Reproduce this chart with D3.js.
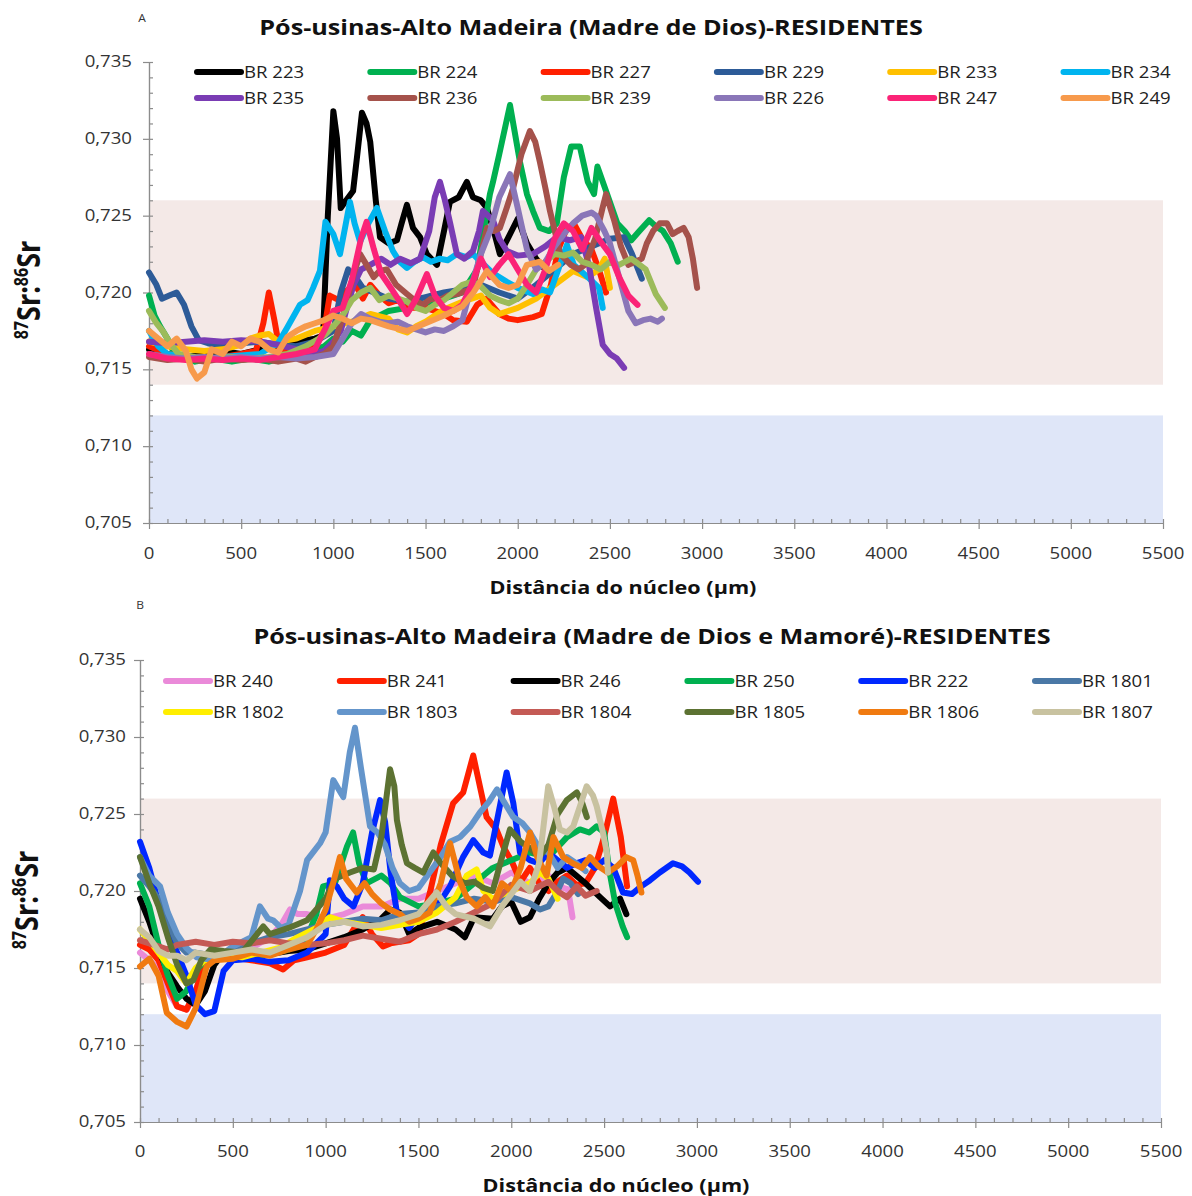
<!DOCTYPE html>
<html>
<head>
<meta charset="utf-8">
<script src="https://cdn.jsdelivr.net/npm/d3@7"></script>
<style>
  body { margin: 0; background: #fff; }
  svg { display: block; }
</style>
</head>
<body>
<script>
// ---------- data ----------
const titles = [
  "Pós-usinas-Alto Madeira (Madre de Dios)-RESIDENTES",
  "Pós-usinas-Alto Madeira (Madre de Dios e Mamoré)-RESIDENTES"
];
const panelLetters = ["A", "B"];
const xTitle = "Distância do núcleo (µm)";
const xTicks = [0, 500, 1000, 1500, 2000, 2500, 3000, 3500, 4000, 4500, 5000, 5500];
const yTicks = [0.705, 0.710, 0.715, 0.720, 0.725, 0.730, 0.735];
const localBand = [0.714, 0.726];
const otherBand = [0.705, 0.712];

const namesA = ["BR 223", "BR 224", "BR 227", "BR 229", "BR 233", "BR 234",
                "BR 235", "BR 236", "BR 239", "BR 226", "BR 247", "BR 249"];
const namesB = ["BR 240", "BR 241", "BR 246", "BR 250", "BR 222", "BR 1801",
                "BR 1802", "BR 1803", "BR 1804", "BR 1805", "BR 1806", "BR 1807"];

// distance (µm), 87Sr/86Sr
const br223 = [[0,0.7163],[100,0.7160],[200,0.7158],[300,0.7160],[400,0.7162],[500,0.7160],[600,0.7163],[700,0.7165],[800,0.7168],[900,0.7170],[944,0.7172],[970,0.7250],[1000,0.7318],[1020,0.7300],[1040,0.7255],[1070,0.7260],[1107,0.7266],[1130,0.7290],[1155,0.7317],[1180,0.7310],[1200,0.7298],[1230,0.7260],[1253,0.7236],[1300,0.7232],[1345,0.7234],[1370,0.7245],[1399,0.7257],[1432,0.7242],[1470,0.7236],[1507,0.7225],[1562,0.7218],[1600,0.7240],[1632,0.7259],[1680,0.7262],[1724,0.7272],[1757,0.7262],[1800,0.7260],[1833,0.7255],[1870,0.7240],[1903,0.7225],[1950,0.7236],[2000,0.7248],[2050,0.7232],[2100,0.7222],[2150,0.7215]];
const br224 = [[0,0.7198],[30,0.7185],[60,0.7178],[100,0.7170],[130,0.7162],[180,0.7158],[250,0.7155],[350,0.7157],[450,0.7155],[550,0.7157],[650,0.7155],[750,0.7158],[850,0.7160],[950,0.7165],[1000,0.7170],[1050,0.7168],[1100,0.7175],[1150,0.7172],[1200,0.7182],[1300,0.7188],[1400,0.7190],[1500,0.7193],[1600,0.7196],[1700,0.7200],[1780,0.7215],[1849,0.7264],[1866,0.7272],[1900,0.7290],[1958,0.7322],[2012,0.7285],[2050,0.7264],[2083,0.7253],[2120,0.7242],[2170,0.7240],[2212,0.7245],[2250,0.7275],[2290,0.7295],[2337,0.7295],[2380,0.7272],[2414,0.7264],[2432,0.7282],[2479,0.7266],[2540,0.7245],[2580,0.7240],[2616,0.7234],[2660,0.7240],[2713,0.7247],[2750,0.7243],[2788,0.7240],[2830,0.7232],[2868,0.7220]];
const br227 = [[0,0.7165],[100,0.7160],[200,0.7158],[300,0.7157],[400,0.7158],[500,0.7160],[580,0.7162],[620,0.7180],[650,0.7200],[680,0.7182],[710,0.7162],[800,0.7163],[900,0.7165],[950,0.7175],[980,0.7198],[1030,0.7195],[1080,0.7202],[1120,0.7205],[1160,0.7196],[1200,0.7205],[1250,0.7198],[1300,0.7193],[1350,0.7195],[1400,0.7190],[1500,0.7190],[1600,0.7186],[1650,0.7182],[1724,0.7181],[1780,0.7192],[1830,0.7196],[1900,0.7186],[1950,0.7183],[2000,0.7182],[2083,0.7184],[2130,0.7186],[2180,0.7205],[2220,0.7228],[2260,0.7240],[2304,0.7245],[2350,0.7235],[2400,0.7228],[2440,0.7215],[2479,0.7200]];
const br229 = [[0,0.7213],[40,0.7205],[70,0.7196],[110,0.7198],[150,0.7200],[190,0.7192],[230,0.7178],[270,0.7169],[320,0.7167],[400,0.7165],[500,0.7167],[600,0.7168],[700,0.7166],[800,0.7165],[900,0.7168],[1000,0.7175],[1040,0.7200],[1080,0.7215],[1120,0.7210],[1160,0.7203],[1220,0.7200],[1300,0.7196],[1400,0.7194],[1500,0.7197],[1600,0.7200],[1700,0.7202],[1800,0.7205],[1900,0.7200],[2000,0.7196],[2100,0.7205],[2200,0.7215],[2300,0.7225],[2400,0.7230],[2500,0.7235],[2577,0.7236],[2620,0.7225],[2673,0.7209]];
const br233 = [[0,0.7168],[100,0.7165],[200,0.7163],[300,0.7162],[400,0.7163],[500,0.7166],[550,0.7170],[600,0.7172],[650,0.7173],[700,0.7168],[800,0.7170],[900,0.7175],[1000,0.7178],[1100,0.7181],[1200,0.7186],[1300,0.7183],[1350,0.7176],[1400,0.7174],[1450,0.7178],[1500,0.7181],[1600,0.7189],[1700,0.7194],[1800,0.7198],[1850,0.7190],[1900,0.7186],[2000,0.7190],[2100,0.7196],[2200,0.7205],[2300,0.7214],[2380,0.7210],[2440,0.7215],[2472,0.7222],[2500,0.7203]];
const br234 = [[0,0.7175],[50,0.7165],[100,0.7160],[200,0.7158],[300,0.7157],[400,0.7158],[500,0.7159],[600,0.7160],[700,0.7167],[749,0.7177],[819,0.7192],[860,0.7195],[890,0.7203],[927,0.7214],[957,0.7246],[1000,0.7238],[1036,0.7225],[1060,0.7240],[1090,0.7259],[1115,0.7245],[1145,0.7233],[1190,0.7245],[1236,0.7255],[1280,0.7240],[1323,0.7227],[1360,0.7220],[1399,0.7216],[1440,0.7220],[1486,0.7223],[1530,0.7220],[1578,0.7222],[1620,0.7221],[1670,0.7225],[1720,0.7223],[1757,0.7225],[1800,0.7220],[1860,0.7213],[1941,0.7207],[2000,0.7203],[2083,0.7199],[2130,0.7202],[2175,0.7200],[2220,0.7215],[2267,0.7231],[2304,0.7218],[2380,0.7210],[2441,0.7203],[2461,0.7190]];
const br235 = [[0,0.7168],[100,0.7167],[200,0.7168],[300,0.7169],[400,0.7168],[500,0.7169],[600,0.7168],[700,0.7166],[800,0.7163],[900,0.7160],[950,0.7162],[1000,0.7168],[1040,0.7175],[1073,0.7190],[1110,0.7205],[1150,0.7215],[1200,0.7218],[1260,0.7222],[1310,0.7218],[1362,0.7222],[1420,0.7219],[1470,0.7222],[1520,0.7240],[1550,0.7262],[1578,0.7272],[1605,0.7260],[1632,0.7246],[1670,0.7225],[1710,0.7222],[1757,0.7227],[1790,0.7240],[1811,0.7253],[1866,0.7247],[1900,0.7235],[1941,0.7227],[2000,0.7224],[2083,0.7225],[2150,0.7230],[2212,0.7236],[2283,0.7234],[2343,0.7236],[2386,0.7218],[2425,0.7190],[2461,0.7166],[2500,0.7160],[2538,0.7157],[2577,0.7151]];
const br236 = [[0,0.7158],[100,0.7156],[200,0.7157],[300,0.7155],[400,0.7157],[500,0.7156],[600,0.7157],[700,0.7155],[800,0.7157],[850,0.7155],[900,0.7158],[950,0.7160],[1000,0.7165],[1040,0.7180],[1073,0.7194],[1110,0.7212],[1145,0.7225],[1180,0.7218],[1218,0.7210],[1250,0.7214],[1290,0.7215],[1340,0.7205],[1399,0.7199],[1440,0.7195],[1486,0.7192],[1530,0.7196],[1578,0.7195],[1620,0.7198],[1670,0.7199],[1720,0.7201],[1757,0.7203],[1800,0.7225],[1833,0.7242],[1870,0.7240],[1903,0.7242],[1940,0.7255],[1975,0.7268],[2020,0.7290],[2066,0.7305],[2095,0.7298],[2120,0.7285],[2150,0.7268],[2175,0.7253],[2205,0.7238],[2230,0.7225],[2288,0.7218],[2330,0.7215],[2364,0.7218],[2420,0.7235],[2460,0.7255],[2479,0.7264],[2523,0.7247],[2560,0.7230],[2600,0.7218],[2640,0.7220],[2673,0.7222],[2700,0.7232],[2734,0.7240],[2770,0.7245],[2810,0.7245],[2840,0.7238],[2868,0.7240],[2900,0.7242],[2927,0.7236],[2950,0.7222],[2973,0.7203]];
const br239 = [[0,0.7188],[40,0.7180],[80,0.7174],[120,0.7166],[160,0.7160],[250,0.7158],[350,0.7157],[450,0.7158],[550,0.7157],[650,0.7158],[750,0.7160],[850,0.7165],[950,0.7172],[1000,0.7178],[1050,0.7185],[1100,0.7195],[1150,0.7200],[1200,0.7203],[1250,0.7195],[1300,0.7198],[1350,0.7196],[1400,0.7194],[1450,0.7190],[1500,0.7188],[1550,0.7192],[1600,0.7195],[1650,0.7200],[1700,0.7205],[1750,0.7207],[1800,0.7204],[1850,0.7198],[1900,0.7195],[1950,0.7193],[2000,0.7196],[2050,0.7205],[2100,0.7215],[2150,0.7220],[2200,0.7225],[2250,0.7224],[2300,0.7226],[2350,0.7220],[2400,0.7218],[2450,0.7215],[2500,0.7220],[2550,0.7218],[2616,0.7222],[2694,0.7215],[2749,0.7199],[2798,0.7190]];
const br226 = [[0,0.7160],[100,0.7158],[200,0.7157],[300,0.7158],[400,0.7157],[500,0.7158],[600,0.7157],[700,0.7158],[800,0.7157],[900,0.7158],[1000,0.7160],[1050,0.7170],[1100,0.7180],[1150,0.7186],[1200,0.7183],[1250,0.7181],[1300,0.7180],[1350,0.7181],[1400,0.7178],[1450,0.7176],[1500,0.7174],[1550,0.7176],[1600,0.7175],[1650,0.7178],[1700,0.7182],[1750,0.7205],[1800,0.7225],[1850,0.7240],[1900,0.7262],[1958,0.7277],[2000,0.7255],[2050,0.7228],[2100,0.7215],[2150,0.7220],[2200,0.7230],[2250,0.7238],[2300,0.7245],[2350,0.7250],[2400,0.7252],[2425,0.7250],[2470,0.7240],[2500,0.7232],[2550,0.7210],[2600,0.7188],[2640,0.7180],[2680,0.7182],[2720,0.7183],[2760,0.7181],[2782,0.7183]];
const br247 = [[0,0.7160],[100,0.7157],[200,0.7156],[300,0.7157],[400,0.7156],[500,0.7157],[600,0.7156],[700,0.7158],[800,0.7160],[900,0.7163],[950,0.7175],[1000,0.7188],[1050,0.7190],[1100,0.7208],[1150,0.7235],[1180,0.7246],[1220,0.7228],[1260,0.7212],[1300,0.7205],[1350,0.7196],[1400,0.7186],[1450,0.7196],[1507,0.7212],[1550,0.7198],[1600,0.7190],[1650,0.7188],[1700,0.7192],[1750,0.7205],[1800,0.7222],[1850,0.7210],[1900,0.7218],[1950,0.7225],[2000,0.7215],[2050,0.7205],[2100,0.7200],[2150,0.7215],[2200,0.7235],[2250,0.7245],[2300,0.7240],[2350,0.7228],[2400,0.7242],[2450,0.7233],[2500,0.7225],[2550,0.7210],[2600,0.7198],[2650,0.7192]];
const br249 = [[0,0.7175],[50,0.7170],[100,0.7165],[150,0.7170],[200,0.7162],[230,0.7150],[260,0.7144],[300,0.7148],[340,0.7163],[400,0.7160],[450,0.7168],[500,0.7165],[550,0.7170],[600,0.7168],[650,0.7163],[700,0.7161],[750,0.7171],[800,0.7175],[850,0.7178],[900,0.7180],[950,0.7182],[1000,0.7185],[1050,0.7183],[1100,0.7180],[1150,0.7183],[1200,0.7182],[1300,0.7178],[1400,0.7175],[1500,0.7180],[1600,0.7185],[1700,0.7191],[1760,0.7200],[1833,0.7214],[1900,0.7205],[1950,0.7203],[2000,0.7205],[2050,0.7218],[2120,0.7220],[2170,0.7214],[2220,0.7218]];

const br240 = [[0,0.7160],[50,0.7155],[100,0.7150],[150,0.7135],[200,0.7125],[253,0.7123],[300,0.7135],[350,0.7150],[400,0.7158],[500,0.7162],[600,0.7163],[700,0.7170],[760,0.7178],[808,0.7188],[850,0.7185],[900,0.7185],[1000,0.7182],[1100,0.7185],[1200,0.7190],[1300,0.7190],[1400,0.7195],[1500,0.7195],[1600,0.7200],[1700,0.7205],[1800,0.7210],[1900,0.7205],[2000,0.7212],[2100,0.7205],[2200,0.7210],[2280,0.7202],[2306,0.7201],[2330,0.7183]];
const br241 = [[0,0.7165],[50,0.7162],[100,0.7155],[150,0.7140],[200,0.7125],[250,0.7123],[300,0.7135],[350,0.7155],[400,0.7158],[500,0.7157],[600,0.7155],[700,0.7153],[771,0.7149],[830,0.7155],[900,0.7157],[1000,0.7160],[1100,0.7165],[1150,0.7175],[1200,0.7183],[1250,0.7172],[1309,0.7164],[1350,0.7166],[1400,0.7167],[1450,0.7168],[1500,0.7172],[1562,0.7199],[1620,0.7230],[1687,0.7257],[1741,0.7264],[1795,0.7288],[1831,0.7268],[1867,0.7248],[1920,0.7240],[1960,0.7228],[2000,0.7220],[2050,0.7206],[2100,0.7215],[2150,0.7205],[2200,0.7200],[2250,0.7206],[2300,0.7210],[2350,0.7204],[2400,0.7205],[2450,0.7215],[2500,0.7235],[2549,0.7260],[2590,0.7235],[2624,0.7203]];
const br246 = [[0,0.7195],[50,0.7180],[100,0.7162],[150,0.7147],[200,0.7138],[250,0.7130],[300,0.7126],[350,0.7135],[400,0.7152],[450,0.7160],[500,0.7158],[600,0.7160],[700,0.7159],[800,0.7161],[900,0.7162],[1000,0.7166],[1100,0.7170],[1200,0.7175],[1300,0.7182],[1350,0.7188],[1400,0.7186],[1450,0.7172],[1500,0.7176],[1600,0.7180],[1700,0.7175],[1750,0.7170],[1800,0.7183],[1900,0.7182],[1950,0.7190],[2000,0.7193],[2050,0.7180],[2101,0.7183],[2150,0.7195],[2200,0.7205],[2250,0.7212],[2300,0.7215],[2350,0.7210],[2400,0.7205],[2478,0.7196],[2532,0.7190],[2586,0.7195],[2620,0.7185]];
const br250 = [[0,0.7205],[50,0.7190],[100,0.7165],[150,0.7145],[200,0.7130],[250,0.7135],[300,0.7148],[350,0.7155],[400,0.7157],[500,0.7158],[600,0.7157],[700,0.7159],[800,0.7162],[900,0.7170],[950,0.7185],[986,0.7203],[1050,0.7205],[1115,0.7229],[1148,0.7238],[1180,0.7218],[1220,0.7205],[1300,0.7210],[1350,0.7205],[1400,0.7196],[1500,0.7190],[1600,0.7192],[1700,0.7195],[1800,0.7205],[1900,0.7215],[2000,0.7220],[2100,0.7225],[2200,0.7222],[2300,0.7235],[2370,0.7240],[2420,0.7238],[2460,0.7242],[2500,0.7238],[2530,0.7212],[2560,0.7192],[2600,0.7177],[2624,0.7170]];
const br222 = [[0,0.7232],[50,0.7215],[100,0.7192],[150,0.7176],[200,0.7160],[250,0.7145],[300,0.7126],[350,0.7120],[400,0.7122],[450,0.7148],[500,0.7155],[600,0.7156],[700,0.7154],[800,0.7155],[900,0.7160],[1000,0.7172],[1023,0.7207],[1060,0.7203],[1100,0.7195],[1150,0.7190],[1200,0.7205],[1250,0.7238],[1293,0.7259],[1320,0.7245],[1350,0.7212],[1384,0.7186],[1450,0.7176],[1500,0.7185],[1600,0.7190],[1670,0.7203],[1740,0.7222],[1795,0.7233],[1849,0.7225],[1885,0.7223],[1930,0.7250],[1975,0.7277],[2011,0.7257],[2047,0.7225],[2100,0.7220],[2150,0.7218],[2200,0.7225],[2250,0.7220],[2300,0.7215],[2350,0.7218],[2400,0.7220],[2450,0.7215],[2500,0.7220],[2550,0.7215],[2602,0.7199],[2650,0.7198],[2700,0.7203],[2748,0.7207],[2800,0.7212],[2871,0.7218],[2920,0.7216],[2960,0.7212],[3006,0.7206]];
const br1801 = [[0,0.7210],[50,0.7203],[100,0.7195],[150,0.7180],[200,0.7166],[250,0.7160],[300,0.7160],[400,0.7158],[500,0.7160],[600,0.7166],[700,0.7170],[800,0.7172],[900,0.7175],[1000,0.7178],[1100,0.7180],[1200,0.7182],[1300,0.7181],[1400,0.7185],[1500,0.7186],[1600,0.7190],[1700,0.7192],[1800,0.7195],[1900,0.7193],[2000,0.7196],[2100,0.7192],[2155,0.7188],[2200,0.7190],[2245,0.7199],[2279,0.7208],[2320,0.7205],[2360,0.7198]];
const br1802 = [[0,0.7175],[50,0.7168],[100,0.7160],[150,0.7152],[200,0.7148],[250,0.7140],[300,0.7150],[350,0.7155],[450,0.7158],[550,0.7157],[650,0.7160],[750,0.7163],[850,0.7170],[950,0.7176],[1023,0.7183],[1100,0.7180],[1200,0.7178],[1300,0.7176],[1400,0.7178],[1500,0.7180],[1600,0.7186],[1700,0.7196],[1760,0.7210],[1813,0.7214],[1850,0.7200],[1900,0.7195],[2000,0.7200],[2100,0.7205],[2155,0.7212],[2200,0.7208],[2250,0.7195]];
const br1803 = [[0,0.7222],[50,0.7210],[108,0.7203],[150,0.7186],[200,0.7172],[250,0.7163],[305,0.7157],[400,0.7155],[500,0.7164],[600,0.7170],[646,0.7190],[690,0.7182],[717,0.7181],[760,0.7176],[800,0.7178],[862,0.7200],[900,0.7220],[970,0.7231],[1000,0.7238],[1041,0.7272],[1070,0.7266],[1095,0.7261],[1130,0.7290],[1158,0.7306],[1190,0.7280],[1239,0.7242],[1280,0.7238],[1320,0.7230],[1360,0.7215],[1400,0.7205],[1450,0.7200],[1500,0.7202],[1560,0.7212],[1620,0.7222],[1670,0.7232],[1724,0.7235],[1780,0.7242],[1831,0.7251],[1880,0.7258],[1923,0.7266],[1960,0.7258],[2011,0.7248],[2060,0.7244],[2101,0.7238],[2150,0.7228],[2200,0.7225],[2250,0.7215],[2300,0.7222],[2350,0.7218],[2400,0.7213]];
const br1804 = [[0,0.7168],[50,0.7166],[100,0.7164],[150,0.7162],[200,0.7165],[300,0.7167],[400,0.7165],[500,0.7167],[600,0.7166],[700,0.7168],[800,0.7166],[900,0.7165],[1000,0.7166],[1100,0.7168],[1200,0.7171],[1300,0.7169],[1400,0.7167],[1500,0.7172],[1600,0.7175],[1700,0.7180],[1800,0.7186],[1900,0.7192],[2000,0.7204],[2100,0.7200],[2200,0.7206],[2260,0.7199],[2300,0.7196],[2353,0.7203],[2400,0.7197],[2460,0.7200]];
const br1805 = [[0,0.7222],[50,0.7205],[100,0.7190],[150,0.7170],[200,0.7152],[250,0.7140],[287,0.7142],[330,0.7155],[380,0.7162],[450,0.7161],[550,0.7160],[664,0.7177],[700,0.7172],[800,0.7176],[900,0.7181],[1000,0.7195],[1050,0.7208],[1131,0.7212],[1200,0.7215],[1260,0.7214],[1300,0.7235],[1347,0.7279],[1370,0.7268],[1384,0.7246],[1410,0.7230],[1438,0.7218],[1480,0.7215],[1526,0.7212],[1580,0.7225],[1620,0.7218],[1680,0.7210],[1750,0.7205],[1800,0.7206],[1850,0.7202],[1900,0.7200],[1950,0.7222],[1993,0.7240],[2050,0.7232],[2100,0.7228],[2150,0.7222],[2200,0.7230],[2250,0.7250],[2299,0.7259],[2353,0.7264],[2380,0.7258],[2407,0.7248]];
const br1806 = [[0,0.7151],[50,0.7156],[100,0.7145],[144,0.7121],[200,0.7115],[251,0.7112],[300,0.7124],[359,0.7151],[400,0.7155],[500,0.7156],[600,0.7160],[700,0.7158],[800,0.7162],[900,0.7165],[950,0.7175],[1000,0.7188],[1040,0.7205],[1077,0.7222],[1110,0.7208],[1167,0.7199],[1210,0.7205],[1250,0.7198],[1300,0.7192],[1347,0.7188],[1400,0.7185],[1450,0.7180],[1500,0.7182],[1560,0.7186],[1620,0.7205],[1670,0.7231],[1724,0.7206],[1760,0.7196],[1813,0.7190],[1860,0.7196],[1900,0.7190],[1950,0.7205],[2000,0.7200],[2050,0.7215],[2101,0.7238],[2140,0.7222],[2190,0.7210],[2227,0.7235],[2280,0.7222],[2330,0.7218],[2380,0.7215],[2424,0.7222],[2470,0.7216],[2520,0.7212],[2570,0.7216],[2620,0.7222],[2657,0.7220],[2680,0.7210],[2701,0.7199]];
const br1807 = [[0,0.7175],[50,0.7170],[100,0.7161],[150,0.7158],[200,0.7158],[250,0.7155],[300,0.7160],[400,0.7158],[500,0.7160],[600,0.7162],[700,0.7160],[800,0.7165],[900,0.7170],[1000,0.7178],[1100,0.7180],[1200,0.7177],[1300,0.7178],[1400,0.7181],[1500,0.7185],[1598,0.7199],[1650,0.7190],[1700,0.7185],[1800,0.7182],[1885,0.7177],[1950,0.7190],[2000,0.7198],[2050,0.7206],[2100,0.7200],[2150,0.7218],[2199,0.7268],[2230,0.7255],[2262,0.7240],[2300,0.7238],[2334,0.7242],[2370,0.7255],[2406,0.7268],[2440,0.7262],[2460,0.7255],[2490,0.7240],[2515,0.7225],[2521,0.7212]];

const seriesA = [br223, br224, br227, br229, br233, br234, br235, br236, br239, br226, br247, br249];
const seriesB = [br240, br241, br246, br250, br222, br1801, br1802, br1803, br1804, br1805, br1806, br1807];

// ---------- styles ----------
const colorsA = ["#000000", "#00b050", "#ff2000", "#2d5b98", "#ffc000", "#00b4ef",
                 "#7a3cb4", "#a5524b", "#9cbb5a", "#8a76b8", "#fb2377", "#f79a4c"];
const colorsB = ["#ea8ad9", "#ff2000", "#000000", "#00b050", "#0028ff", "#4a78a6",
                 "#ffee00", "#6495cb", "#c45a55", "#5c7232", "#f07a10", "#c8c2a0"];

const panels = [
  { names: namesA, series: seriesA, colors: colorsA, title: titles[0], letter: panelLetters[0],
    x0: 149, x1: 1163, yBot: 523, yTop: 62,
    legendX: 197, legendStep: 173.3, legendRows: [72, 98],
    titlePos: [591, 35], letterPos: [142, 22], xTitlePos: [623, 594], yTitlePos: [40, 290],
    tickY: 559, tickX: 132 },
  { names: namesB, series: seriesB, colors: colorsB, title: titles[1], letter: panelLetters[1],
    x0: 140, x1: 1161, yBot: 1122, yTop: 660,
    legendX: 166, legendStep: 173.8, legendRows: [681, 712],
    titlePos: [652, 644], letterPos: [140, 609], xTitlePos: [616, 1192], yTitlePos: [38, 900],
    tickY: 1157, tickX: 126 }
];

const SX = 1.2;              // the source figure is stretched horizontally
const axisColor = "#8c8c8c";
const fmt = d3.formatLocale({ decimal: ",", thousands: ".", grouping: [3], currency: ["", ""] }).format(".3f");

const svg = d3.select("body").append("svg")
  .attr("width", 1192).attr("height", 1196)
  .style("font-family", "'Open Sans', sans-serif");

function stretchedText(g, x, y, txt, size, anchor, weight, fill) {
  return g.append("text")
    .attr("transform", `translate(${x},${y}) scale(${SX},1)`)
    .attr("text-anchor", anchor)
    .attr("font-size", size)
    .attr("font-weight", weight || "normal")
    .attr("fill", fill || "#222")
    .text(txt);
}

panels.forEach(p => {
  const g = svg.append("g");
  const x = d3.scaleLinear().domain([0, 5500]).range([p.x0, p.x1]);
  const y = d3.scaleLinear().domain([0.705, 0.735]).range([p.yBot, p.yTop]);

  // reference bands
  [[localBand, "#f4e9e7"], [otherBand, "#dfe6f8"]].forEach(([b, c]) => {
    g.append("rect")
      .attr("x", x(0)).attr("width", x(5500) - x(0))
      .attr("y", y(b[1])).attr("height", y(b[0]) - y(b[1]))
      .attr("fill", c);
  });

  // axes
  const gx = g.append("g").attr("transform", `translate(0,${y(0.705)})`);
  gx.call(d3.axisBottom(x).tickValues(xTicks).tickSize(6).tickSizeOuter(0).tickFormat(""));
  gx.append("g").call(d3.axisTop(x).tickValues(x.ticks(55)).tickSize(4).tickSizeOuter(0).tickFormat(""));
  const gy = g.append("g").attr("transform", `translate(${x(0)},0)`);
  gy.call(d3.axisLeft(y).tickValues(yTicks).tickSize(6).tickSizeOuter(0).tickFormat(""));
  gy.append("g").call(d3.axisRight(y).tickValues(y.ticks(30)).tickSize(4).tickSizeOuter(0).tickFormat(""));
  g.selectAll(".domain, .tick line").attr("stroke", axisColor).attr("stroke-width", 1.2);

  xTicks.forEach(t => stretchedText(g, x(t), p.tickY, String(t), 15.5, "middle", "normal", "#333"));
  yTicks.forEach(t => stretchedText(g, p.tickX, y(t) + 5, fmt(t), 15.5, "end", "normal", "#333"));

  // lines
  const line = d3.line().x(d => x(d[0])).y(d => y(d[1]));
  g.append("g").attr("fill", "none")
    .selectAll("path")
    .data(p.series)
    .join("path")
    .attr("d", line)
    .attr("stroke", (d, i) => p.colors[i])
    .attr("stroke-width", 6)
    .attr("stroke-linejoin", "round")
    .attr("stroke-linecap", "round");

  // legend
  const lg = g.append("g");
  p.names.forEach((n, i) => {
    const col = i % 6, row = Math.floor(i / 6);
    const lx = p.legendX + col * p.legendStep, ly = p.legendRows[row];
    lg.append("line")
      .attr("x1", lx).attr("x2", lx + 44).attr("y1", ly).attr("y2", ly)
      .attr("stroke", p.colors[i]).attr("stroke-width", 6).attr("stroke-linecap", "round");
    stretchedText(lg, lx + 47, ly + 6, n, 15.5, "start", "normal", "#222");
  });

  // titles
  stretchedText(g, p.titlePos[0], p.titlePos[1], p.title, 21, "middle", "bold", "#111");
  stretchedText(g, p.letterPos[0], p.letterPos[1], p.letter, 10, "middle", "normal", "#333");
  stretchedText(g, p.xTitlePos[0], p.xTitlePos[1], xTitle, 18, "middle", "bold", "#111");

  const yt = g.append("text")
    .attr("transform", `translate(${p.yTitlePos[0]},${p.yTitlePos[1]}) scale(${SX},1) rotate(-90)`)
    .attr("text-anchor", "middle")
    .attr("font-size", 27).attr("font-weight", "bold").attr("fill", "#111");
  yt.append("tspan").attr("font-size", 16).attr("dy", -10).text("87");
  yt.append("tspan").attr("dy", 10).text("Sr:");
  yt.append("tspan").attr("font-size", 16).attr("dy", -10).text("86");
  yt.append("tspan").attr("dy", 10).text("Sr");
});
</script>
</body>
</html>
